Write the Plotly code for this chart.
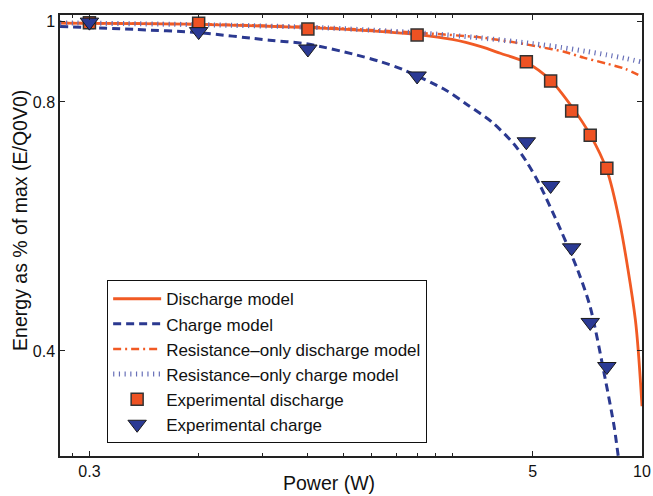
import plotly.graph_objects as go

# ---- data ----
P_dis_model = [0.249, 0.6, 1.2, 1.8, 2.4, 3.0, 3.6, 4.07, 4.8, 5.6, 6.4, 7.2, 8.0, 8.66, 9.59, 10.0]
E_dis_model = [0.996, 0.993, 0.984, 0.975, 0.965, 0.952, 0.933, 0.916, 0.893, 0.850, 0.790, 0.730, 0.662, 0.575, 0.436, 0.343]

P_chg_model = [0.249, 0.4, 0.6, 0.94, 1.2, 1.63, 1.9, 2.2, 2.89, 3.27, 3.85, 4.43, 4.8, 5.2, 5.97, 6.66, 7.2, 7.9, 8.38, 8.6, 8.9]
E_chg_model = [0.987, 0.979, 0.970, 0.950, 0.940, 0.912, 0.895, 0.875, 0.826, 0.796, 0.757, 0.712, 0.678, 0.638, 0.560, 0.500, 0.452, 0.372, 0.324, 0.2985, 0.27]

P_res = [0.249, 0.6, 1.2, 2.4, 3.6, 4.6, 5.25, 6.1, 6.9, 8.0, 9.0, 10.0]
E_res_dis = [0.997, 0.993, 0.986, 0.970, 0.957, 0.942, 0.932, 0.920, 0.905, 0.890, 0.877, 0.858]

P_res_c = [0.249, 0.6, 1.2, 2.4, 3.6, 5.0, 6.0, 7.0, 8.0, 9.0, 10.0]
E_res_chg = [0.997, 0.992, 0.985, 0.970, 0.956, 0.941, 0.931, 0.921, 0.912, 0.903, 0.894]

P_exp = [0.3, 0.6, 1.2, 2.4, 4.8, 5.6, 6.4, 7.2, 8.0]
E_exp_dis = [0.997, 0.996, 0.980, 0.964, 0.895, 0.848, 0.780, 0.729, 0.665]
E_exp_chg = [0.999, 0.973, 0.927, 0.860, 0.716, 0.634, 0.533, 0.433, 0.383]

x_major = [0.3, 5, 10]
x_major_text = ["0.3", "5", "10"]
x_minor = [0.27, 0.6, 0.9, 1.2, 1.5, 1.8, 2.1, 2.4, 2.7, 3.0]
y_ticks = [0.4, 0.8, 1]
y_ticks_text = ["0.4", "0.8", "1"]

x_title = "Power (W)"
y_title = "Energy as % of max (E/Q0V0)"

ORANGE = "#F15A24"
BLUE = "#2B3990"
FONT = "Liberation Sans, Arial, sans-serif"

fig = go.Figure()
fig.add_trace(go.Scatter(x=P_dis_model, y=E_dis_model, mode="lines", name="Discharge model",
                         line=dict(color=ORANGE, width=2.8, shape="spline", smoothing=0.8)))
fig.add_trace(go.Scatter(x=P_chg_model, y=E_chg_model, mode="lines", name="Charge model",
                         line=dict(color=BLUE, width=3, dash="8px,5px", shape="spline", smoothing=0.8)))
fig.add_trace(go.Scatter(x=P_res, y=E_res_dis, mode="lines", name="Resistance–only discharge model",
                         line=dict(color=ORANGE, width=2.5, dash="8px,4px,2px,4px", shape="spline", smoothing=0.8)))
fig.add_trace(go.Scatter(x=P_res_c, y=E_res_chg, mode="lines", name="Resistance–only charge model",
                         line=dict(color="#6870B8", width=5, dash="1.2px,4.5px", shape="spline", smoothing=0.8)))
fig.add_trace(go.Scatter(x=P_exp, y=E_exp_dis, mode="markers", name="Experimental discharge",
                         marker=dict(symbol="square", size=12, color="#EE5223",
                                     line=dict(color="#333333", width=1.5))))
fig.add_trace(go.Scatter(x=P_exp, y=E_exp_chg, mode="markers", name="Experimental charge",
                         marker=dict(symbol="triangle-down", size=16, color="#2B3A94",
                                     line=dict(color="#1a1a1a", width=1))))

fig.update_layout(
    width=653, height=496,
    margin=dict(l=60, r=11, t=15, b=40),
    paper_bgcolor="white", plot_bgcolor="white",
    font=dict(family=FONT, size=16, color="#111111"),
    showlegend=True,
    legend=dict(x=0.081, y=0.029, xanchor="left", yanchor="bottom",
                bgcolor="white", bordercolor="#111111", borderwidth=1,
                font=dict(family=FONT, size=17, color="#111111"),
                tracegroupgap=0, itemwidth=48),
    annotations=[
        dict(text=x_title, xref="paper", yref="paper", x=0.462, y=-0.061,
             xanchor="center", yanchor="middle", showarrow=False,
             font=dict(family=FONT, size=19.5, color="#111111")),
        dict(text=y_title, xref="paper", yref="paper", x=-0.069, y=0.535,
             xanchor="center", yanchor="middle", showarrow=False, textangle=-90,
             font=dict(family=FONT, size=19.5, color="#111111")),
    ],
)
fig.update_xaxes(
    type="log", range=[-0.604, 1.0], automargin=False,
    tickmode="array", tickvals=x_major, ticktext=x_major_text,
    ticks="inside", ticklen=5, tickwidth=1, tickcolor="#222222",
    minor=dict(tickmode="array", tickvals=x_minor, ticks="inside", ticklen=3, tickwidth=1, tickcolor="#222222"),
    showline=True, linecolor="#222222", linewidth=1.5, mirror="ticks",
    showgrid=False, zeroline=False,
    tickfont=dict(size=16),
)
fig.update_yaxes(
    type="log", range=[-0.525, 0.0082], automargin=False,
    tickmode="array", tickvals=y_ticks, ticktext=y_ticks_text,
    ticks="inside", ticklen=5, tickwidth=1, tickcolor="#222222",
    showline=True, linecolor="#222222", linewidth=1.5, mirror="ticks",
    showgrid=False, zeroline=False,
    tickfont=dict(size=16),
)

fig.write_html("out.html")
